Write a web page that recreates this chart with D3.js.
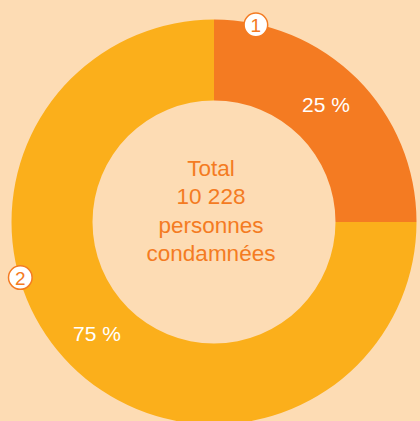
<!DOCTYPE html>
<html>
<head>
<meta charset="utf-8">
<script src="https://cdn.jsdelivr.net/npm/d3@7"></script>
<style>
  body { margin: 0; background: #fddcb4; }
  svg { display: block; font-family: "Liberation Sans", Arial, sans-serif; }
</style>
</head>
<body>
<div id="chart"></div>
<script>
// data
var categories = ["1", "2"];
var values = [25, 75];
var sliceColors = ["#f47b22", "#fbaf1b"];
var markerAngles = [12, 254];   // degrees, clockwise from top
var centerLines = ["Total", "10 228", "personnes", "condamnées"];

var chart = function(options)
{
    var self = {};
    for (var key in options){
        self[key] = options[key];
    }

    self.init = function(){
        self.svg = d3.select("#" + self.id_name).append("svg")
            .attr("width", self.width)
            .attr("height", self.height);
        self.g = self.svg.append("g")
            .attr("transform", "translate(" + self.cx + "," + self.cy + ")");
    };

    self.render = function(){
        var pie = d3.pie().sort(null).value(function(d){ return d; });
        var arcs = pie(values);
        var arc = d3.arc().innerRadius(self.inner).outerRadius(self.outer);

        self.g.selectAll("path.slice")
            .data(arcs)
            .enter().append("path")
            .attr("class", "slice")
            .attr("d", arc)
            .attr("fill", function(d, i){ return sliceColors[i]; });

        // percent labels
        self.g.selectAll("text.pct")
            .data(arcs)
            .enter().append("text")
            .attr("class", "pct")
            .attr("x", function(d){ return arc.centroid(d)[0] - 2.5; })
            .attr("y", function(d){ return arc.centroid(d)[1] + 4.5; })
            .attr("text-anchor", "middle")
            .attr("fill", "#ffffff")
            .style("font-size", "21px")
            .text(function(d){ return d.data + " %"; });

        // centre text
        var t = self.g.append("text")
            .attr("text-anchor", "middle")
            .attr("fill", "#f47b22")
            .style("font-size", "22.5px");
        t.selectAll("tspan")
            .data(centerLines)
            .enter().append("tspan")
            .attr("x", -3)
            .attr("y", function(d, i){ return -46 + i * 28.3; })
            .text(function(d){ return d; });

        // numbered markers
        var rad = function(a){ return a * Math.PI / 180; };
        var m = self.g.selectAll("g.marker")
            .data(categories)
            .enter().append("g")
            .attr("class", "marker")
            .attr("transform", function(d, i){
                var a = rad(markerAngles[i]);
                return "translate(" + (self.markR * Math.sin(a)) + "," + (-self.markR * Math.cos(a)) + ")";
            });
        m.append("circle")
            .attr("r", 11.8)
            .attr("fill", "#ffffff")
            .attr("stroke", "#f47b22")
            .attr("stroke-width", 1.5);
        m.append("text")
            .attr("text-anchor", "middle")
            .attr("y", 7)
            .attr("fill", "#f47b22")
            .style("font-size", "19px")
            .text(function(d){ return d; });
    };

    self.init();
    return self;
};

var c = chart({id_name: "chart", width: 420, height: 421, cx: 214, cy: 222,
               inner: 121.5, outer: 202.5, markR: 201.5});
c.render();
</script>
</body>
</html>
